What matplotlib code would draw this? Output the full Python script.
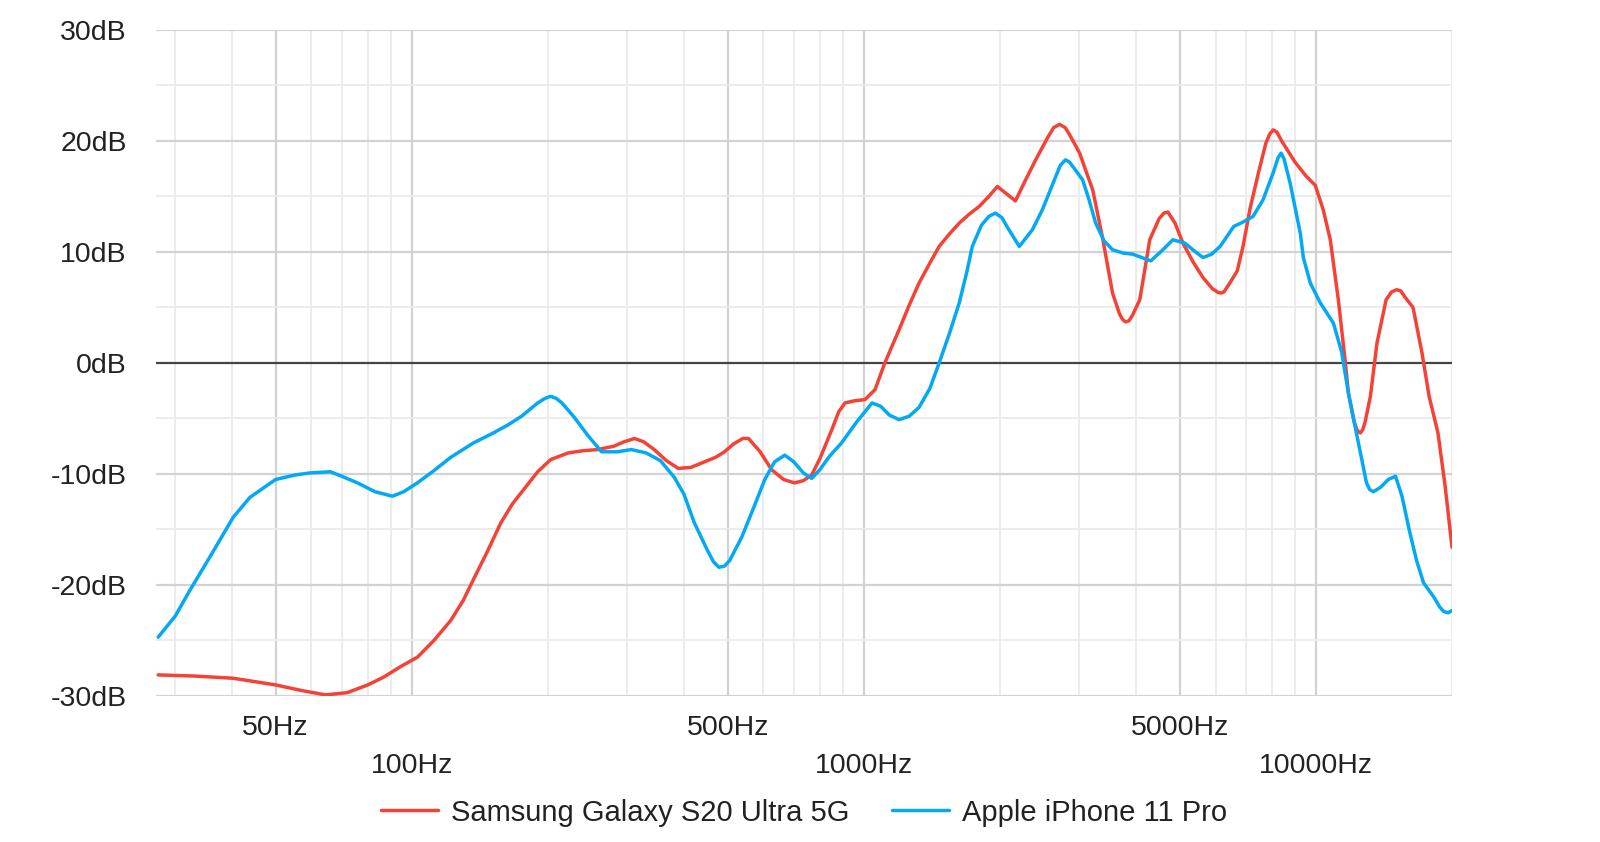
import matplotlib
matplotlib.use("Agg")
import matplotlib.pyplot as plt
from matplotlib.ticker import FixedLocator, NullFormatter

# ---- data ----
samsung_freq = [27.5, 33, 40.3, 50, 57, 64.5, 72, 80, 86.7, 95, 103, 112, 122, 130, 137, 147, 157.5,
                167, 177, 190, 203, 222, 240, 258, 280, 295, 311, 326, 344, 366, 389, 415, 445, 470,
                492, 515, 540, 556, 590, 625, 665, 703, 735, 767, 800, 850, 880, 909, 955, 1006,
                1059, 1113, 1197, 1260, 1325, 1400, 1468, 1545, 1626, 1710, 1800, 1890, 1975, 2060,
                2165, 2280, 2400, 2550, 2630, 2710, 2790, 2850, 3003, 3100, 3209, 3380, 3550, 3680,
                3740, 3795, 3860, 3930, 4078, 4180, 4290, 4500, 4610, 4706, 4880, 5080, 5350, 5626,
                5900, 6080, 6170, 6260, 6450, 6700, 6900, 7150, 7470, 7750, 7900, 8044, 8200, 8400,
                8990, 9530, 9970, 10380, 10760, 11210, 11620, 11800, 12150, 12350, 12540, 12700,
                12850, 13200, 13650, 14300, 14700, 15080, 15400, 15700, 16400, 17150, 17800, 18620,
                19300, 20000]
samsung_db = [-28.1, -28.2, -28.4, -29.0, -29.5, -29.9, -29.7, -29.0, -28.3, -27.3, -26.5, -25.0,
              -23.2, -21.4, -19.5, -17.0, -14.4, -12.7, -11.4, -9.8, -8.7, -8.1, -7.9, -7.8, -7.5,
              -7.1, -6.8, -7.1, -7.8, -8.8, -9.5, -9.4, -8.9, -8.5, -8.0, -7.3, -6.8, -6.8, -8.0,
              -9.6, -10.5, -10.8, -10.6, -10.1, -8.6, -6.0, -4.4, -3.6, -3.4, -3.3, -2.4, 0.0, 3.0,
              5.2, 7.2, 9.0, 10.5, 11.6, 12.6, 13.4, 14.1, 15.0, 15.9, 15.3, 14.6, 16.5, 18.3, 20.3,
              21.2, 21.5, 21.2, 20.6, 18.9, 17.3, 15.6, 11.1, 6.3, 4.4, 3.9, 3.7, 3.8, 4.3, 5.7,
              8.3, 11.1, 13.0, 13.5, 13.6, 12.6, 10.8, 9.1, 7.7, 6.7, 6.35, 6.3, 6.4, 7.2, 8.3,
              10.5, 13.9, 17.2, 19.8, 20.6, 21.0, 20.8, 20.0, 18.1, 16.8, 16.0, 13.8, 11.1, 5.7,
              0.0, -2.7, -5.3, -6.1, -6.3, -6.0, -5.3, -3.0, 1.8, 5.7, 6.4, 6.6, 6.5, 6.0, 5.0,
              1.0, -3.0, -6.3, -11.0, -16.6]

apple_freq = [27.5, 30, 32.3, 36, 40.3, 43.9, 50, 55, 59.7, 66.1, 70, 75.9, 83, 90.7, 96, 103, 112,
              122, 137, 150, 163, 175, 190, 197, 203, 209, 215, 229, 245, 263, 285, 306, 330, 355,
              381, 400, 422, 450, 465, 478, 492, 505, 537, 570, 604, 635, 669, 700, 735, 767, 800,
              840, 893, 965, 1043, 1090, 1140, 1197, 1260, 1325, 1400, 1468, 1545, 1626, 1690,
              1738, 1820, 1890, 1954, 2020, 2080, 2208, 2360, 2483, 2640, 2720, 2793, 2850, 2900,
              3048, 3150, 3257, 3400, 3550, 3750, 3937, 4120, 4313, 4560, 4827, 5130, 5380, 5626,
              5880, 6140, 6580, 6900, 7260, 7640, 8040, 8250, 8376, 8500, 8770, 9235, 9380, 9720,
              10230, 10930, 11400, 11800, 12290, 12940, 13150, 13400, 13650, 13900, 14450, 15000,
              15500, 16140, 16700, 17300, 18240, 18800, 19190, 19600, 20000]
apple_db = [-24.7, -22.8, -20.5, -17.3, -13.9, -12.1, -10.5, -10.1, -9.9, -9.8, -10.2, -10.8, -11.6,
            -12.0, -11.6, -10.8, -9.7, -8.5, -7.2, -6.4, -5.6, -4.8, -3.6, -3.2, -3.0, -3.2, -3.6,
            -4.9, -6.5, -8.0, -8.0, -7.8, -8.1, -8.8, -10.3, -11.8, -14.4, -16.8, -17.9, -18.4,
            -18.3, -17.8, -15.7, -13.1, -10.5, -8.9, -8.3, -8.9, -9.9, -10.4, -9.6, -8.4, -7.2,
            -5.3, -3.6, -3.9, -4.7, -5.1, -4.8, -4.0, -2.3, 0.0, 2.6, 5.4, 8.2, 10.5, 12.4, 13.2,
            13.5, 13.1, 12.2, 10.5, 12.0, 13.8, 16.5, 17.8, 18.3, 18.1, 17.7, 16.5, 14.7, 12.6,
            11.0, 10.2, 9.9, 9.8, 9.5, 9.2, 10.1, 11.1, 10.8, 10.1, 9.5, 9.8, 10.5, 12.3, 12.7,
            13.2, 14.7, 17.1, 18.5, 18.9, 18.4, 16.2, 11.7, 9.5, 7.2, 5.4, 3.6, 1.0, -2.7, -6.3,
            -10.8, -11.4, -11.6, -11.4, -11.2, -10.5, -10.2, -12.0, -15.3, -17.8, -19.8, -21.1,
            -22.0, -22.4, -22.5, -22.3]

series_names = ["Samsung Galaxy S20 Ultra 5G", "Apple iPhone 11 Pro"]
series_colors = ["#f44336", "#03a9f4"]

y_ticks = [-30, -20, -10, 0, 10, 20, 30]
y_tick_labels = ["-30dB", "-20dB", "-10dB", "0dB", "10dB", "20dB", "30dB"]
x_ticks = [50, 100, 500, 1000, 5000, 10000]
x_tick_labels = ["50Hz", "100Hz", "500Hz", "1000Hz", "5000Hz", "10000Hz"]
x_minor_grid = [30, 40, 60, 70, 80, 90, 200, 300, 400, 600, 700, 800, 900,
                2000, 3000, 4000, 6000, 7000, 8000, 9000, 20000]

plt.rcParams['font.family'] = ['Liberation Sans', 'DejaVu Sans']

fig = plt.figure(figsize=(16, 8.42), dpi=100)
ax = fig.add_axes([0.0975, 0.1734, 0.81, 0.791])

ax.set_xscale('log')
ax.set_xlim(27.2, 20000)
ax.set_ylim(-30, 30)

# grid
for f in x_minor_grid:
    ax.axvline(f, color='#ebebeb', lw=1.3, zorder=0)
for f in x_ticks:
    ax.axvline(f, color='#d2d2d2', lw=1.6, zorder=0)
for v in range(-25, 30, 10):
    ax.axhline(v, color='#ebebeb', lw=1.3, zorder=0)
for v in y_ticks:
    if v != 0:
        ax.axhline(v, color='#d2d2d2', lw=1.6, zorder=0)
ax.axhline(0, color='#444444', lw=1.6, zorder=1)

ax.plot(samsung_freq, samsung_db, color=series_colors[0], lw=2.5, label=series_names[0],
        zorder=3, solid_joinstyle='round', solid_capstyle='round')
ax.plot(apple_freq, apple_db, color=series_colors[1], lw=2.5, label=series_names[1],
        zorder=4, solid_joinstyle='round', solid_capstyle='round')

for s in ax.spines.values():
    s.set_visible(False)

ax.yaxis.set_major_locator(FixedLocator(y_ticks))
ax.set_yticklabels(y_tick_labels)
ax.xaxis.set_major_locator(FixedLocator(x_ticks))
ax.xaxis.set_minor_locator(FixedLocator([]))
ax.xaxis.set_minor_formatter(NullFormatter())
ax.set_xticklabels(x_tick_labels)
ax.tick_params(axis='both', length=0, labelsize=20.5, labelcolor='#222222')
ax.tick_params(axis='y', pad=21)

for i, tick in enumerate(ax.xaxis.get_major_ticks()):
    tick.set_pad(13.5 if i % 2 == 0 else 41)

fig.legend(loc='center', bbox_to_anchor=(0.5025, 0.035), ncol=2, frameon=False,
           fontsize=21, handlelength=1.95, handletextpad=0.45, columnspacing=1.45,
           labelcolor='#222222')

fig.savefig('out.png', dpi=100, facecolor='white')
